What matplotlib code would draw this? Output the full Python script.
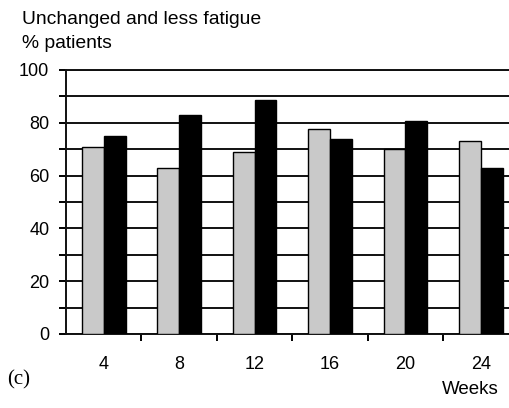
import numpy as np
import matplotlib.pyplot as plt
from matplotlib.ticker import MultipleLocator, FixedLocator

plt.rcParams["font.family"] = ["Liberation Sans", "DejaVu Sans"]

weeks = ["4", "8", "12", "16", "20", "24"]
grey_vals = [71, 63, 69, 77.5, 70, 73]
black_vals = [75, 83, 88.5, 74, 80.5, 63]

fig = plt.figure(figsize=(5.09, 4.08), dpi=100)
ax = fig.add_axes([66 / 509, 74 / 408, 452.5 / 509, 264 / 408])

x = np.arange(len(weeks))
w = 0.29
ax.bar(x - 0.145, grey_vals, w, color="#c9c9c9", edgecolor="black", linewidth=1.0, zorder=3)
ax.bar(x + 0.145, black_vals, w, color="black", edgecolor="black", linewidth=1.0, zorder=3)

ax.set_xlim(-0.5, len(weeks) - 0.5)
ax.set_ylim(0, 100)

# horizontal rules every 10
ax.yaxis.set_major_locator(MultipleLocator(20))
ax.yaxis.set_minor_locator(MultipleLocator(10))
ax.grid(axis="y", which="both", color="#111111", linewidth=1.4, zorder=0)
ax.set_axisbelow(True)

# ticks at group boundaries, labels at group centres
ax.xaxis.set_major_locator(FixedLocator(np.arange(0.5, len(weeks) - 0.5, 1)))
ax.xaxis.set_minor_locator(FixedLocator(x))
ax.set_xticklabels([])
ax.set_xticks(x, weeks, minor=True)
ax.tick_params(axis="x", which="major", length=5, width=1.4, direction="out")
ax.tick_params(axis="x", which="minor", length=0, pad=16, labelsize=13)
ax.tick_params(axis="y", which="both", length=5, width=1.4, direction="out", pad=7, labelsize=13)

ax.spines["right"].set_visible(False)
for s in ["left", "bottom", "top"]:
    ax.spines[s].set_linewidth(1.4)
    ax.spines[s].set_color("#111111")

fig.text(22 / 509, 1 - 20 / 408, "Unchanged and less fatigue", fontsize=13.9, va="center", ha="left")
fig.text(22 / 509, 1 - 43 / 408, "% patients", fontsize=13.9, va="center", ha="left")
fig.text(499 / 509, 1 - 390 / 408, "Weeks", fontsize=13.5, va="center", ha="right")
fig.text(7 / 509, 1 - 380 / 408, "(c)", fontsize=15, va="center", ha="left",
         family=["Liberation Serif", "DejaVu Serif"])

fig.savefig("out.png", dpi=100)
